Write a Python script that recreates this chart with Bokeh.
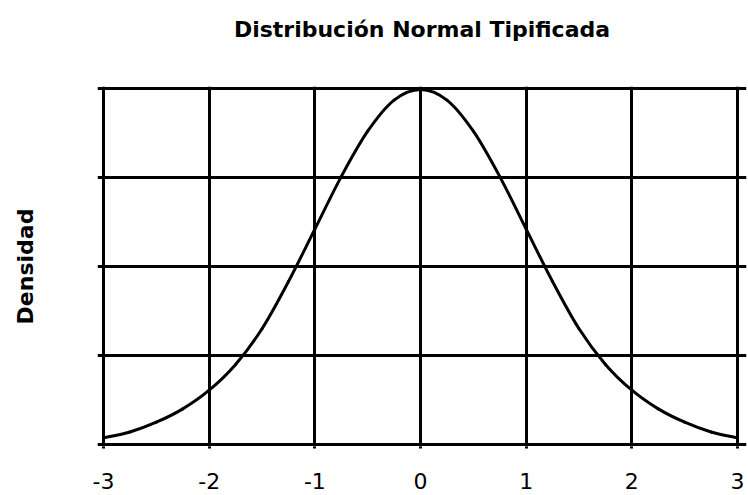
from bokeh.plotting import figure
from bokeh.models import Range1d, FixedTicker, Title
from bokeh.embed import file_html
from bokeh.resources import INLINE

# Data
x_vals = [-3.0, -2.75, -2.5, -2.25, -2.0, -1.75, -1.5, -1.25, -1.0, -0.75, -0.5, -0.25,
          0.0, 0.25, 0.5, 0.75, 1.0, 1.25, 1.5, 1.75, 2.0, 2.25, 2.5, 2.75, 3.0]
densidad = [0.0075, 0.014, 0.025, 0.040, 0.061, 0.090, 0.130, 0.183, 0.242, 0.301, 0.352, 0.387,
            0.399, 0.387, 0.352, 0.301, 0.242, 0.183, 0.130, 0.090, 0.061, 0.040, 0.025, 0.014, 0.0075]
x_ticks = [-3, -2, -1, 0, 1, 2, 3]
x_tick_labels = ["-3", "-2", "-1", "0", "1", "2", "3"]
y_ticks = [0.0, 0.1, 0.2, 0.3, 0.4]

titulo = "Distribución Normal Tipificada"
etiqueta_y = "Densidad"

FONT = "DejaVu Sans"

p = figure(width=748, height=495, output_backend="svg", toolbar_location=None,
           x_range=Range1d(-3.057, 3.085), y_range=Range1d(-0.00225, 0.40225),
           min_border_left=97, min_border_right=2, min_border_top=86, min_border_bottom=49)
p.outline_line_color = None
p.background_fill_color = "white"
p.border_fill_color = "white"

# title
p.title.text = titulo
p.title.align = "center"
p.title.vertical_align = "top"
p.title.text_font = FONT
p.title.text_font_style = "bold"
p.title.text_font_size = "22px"
p.title.text_color = "black"
p.title.standoff = 28

# empty spacer between title and plot area
p.add_layout(Title(text=" ", text_font_size="10px", standoff=16), "above")

# x axis
p.xaxis.ticker = FixedTicker(ticks=x_ticks)
p.xaxis.major_label_overrides = {t: l for t, l in zip(x_ticks, x_tick_labels)}
p.xaxis.axis_line_color = None
p.xaxis.major_tick_line_color = "black"
p.xaxis.major_tick_line_width = 3
p.xaxis.major_tick_out = 2
p.xaxis.major_tick_in = 0
p.xaxis.minor_tick_line_color = None
p.xaxis.major_label_text_font = FONT
p.xaxis.major_label_text_font_size = "22px"
p.xaxis.major_label_text_color = "black"
p.xaxis.major_label_standoff = 24

# y axis: only the title (no tick labels in the reference)
p.yaxis.ticker = FixedTicker(ticks=[])
p.yaxis.axis_line_color = None
p.yaxis.major_tick_line_color = None
p.yaxis.major_tick_out = 0
p.yaxis.minor_tick_line_color = None
p.yaxis.axis_label = etiqueta_y
p.yaxis.axis_label_text_font = FONT
p.yaxis.axis_label_text_font_style = "bold"
p.yaxis.axis_label_text_font_size = "22px"
p.yaxis.axis_label_text_color = "black"
p.yaxis.axis_label_standoff = 60

# grids
p.xgrid.ticker = FixedTicker(ticks=x_ticks)
p.ygrid.ticker = FixedTicker(ticks=y_ticks)
for g in (p.xgrid, p.ygrid):
    g.grid_line_color = "black"
    g.grid_line_width = 3
    g.grid_line_alpha = 1.0

# smooth curve through the data points (Catmull-Rom segments drawn as Bezier curves)
n = len(x_vals)
x0, y0, x1, y1, cx0, cy0, cx1, cy1 = [], [], [], [], [], [], [], []
for i in range(n - 1):
    xa, ya = x_vals[i], densidad[i]
    xb, yb = x_vals[i + 1], densidad[i + 1]
    xp, yp = (x_vals[i - 1], densidad[i - 1]) if i > 0 else (xa, ya)
    xn, yn = (x_vals[i + 2], densidad[i + 2]) if i + 2 < n else (xb, yb)
    x0.append(xa); y0.append(ya); x1.append(xb); y1.append(yb)
    cx0.append(xa + (xb - xp) / 6); cy0.append(ya + (yb - yp) / 6)
    cx1.append(xb - (xn - xa) / 6); cy1.append(yb - (yn - ya) / 6)
p.bezier(x0=x0, y0=y0, x1=x1, y1=y1, cx0=cx0, cy0=cy0, cx1=cx1, cy1=cy1,
         line_width=3, line_color="black", line_cap="round")

open("out.html", "w").write(file_html(p, INLINE))
